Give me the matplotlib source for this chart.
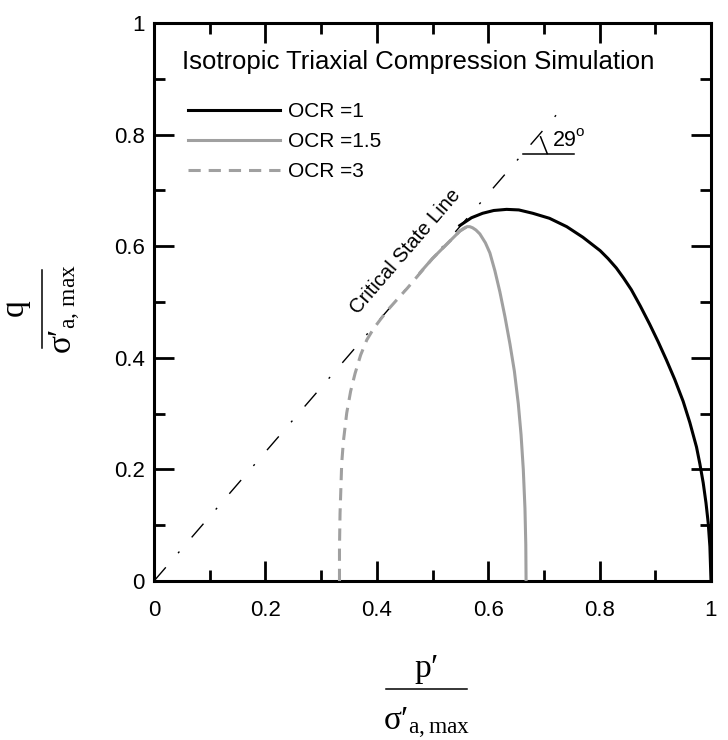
import numpy as np
import matplotlib
matplotlib.use("Agg")
import matplotlib.pyplot as plt
from matplotlib.lines import Line2D

plt.rcParams["font.family"] = ["Liberation Sans", "DejaVu Sans"]
plt.rcParams["mathtext.fontset"] = "custom"
plt.rcParams["mathtext.rm"] = "Liberation Serif"
plt.rcParams["mathtext.it"] = "Liberation Serif:italic"
plt.rcParams["mathtext.bf"] = "Liberation Serif:bold"

# Friction angle of the critical state line (degrees)
phi_deg = 29

# Stress paths, normalised by sigma'_a,max: (p', q)
p_ocr1 = [0.549, 0.570, 0.590, 0.610, 0.633, 0.655, 0.680, 0.710, 0.741, 0.770,
          0.801, 0.815, 0.830, 0.843, 0.857, 0.873, 0.890, 0.905, 0.920, 0.935,
          0.950, 0.962, 0.974, 0.980, 0.986, 0.991, 0.995, 0.998, 1.000]
q_ocr1 = [0.637, 0.651, 0.659, 0.664, 0.666, 0.665, 0.659, 0.650, 0.635, 0.616,
          0.592, 0.578, 0.561, 0.543, 0.522, 0.493, 0.460, 0.429, 0.396, 0.361,
          0.322, 0.284, 0.240, 0.210, 0.176, 0.140, 0.104, 0.062, 0.000]

p_ocr15 = [0.478, 0.500, 0.525, 0.549, 0.556, 0.562, 0.567, 0.572, 0.578, 0.585,
           0.595, 0.603, 0.612, 0.621, 0.630, 0.639, 0.647, 0.654, 0.659, 0.663,
           0.666, 0.6675, 0.668]
q_ocr15 = [0.553, 0.578, 0.603, 0.627, 0.632, 0.635, 0.635, 0.633, 0.629, 0.622,
           0.606, 0.588, 0.556, 0.518, 0.474, 0.425, 0.376, 0.318, 0.262, 0.200,
           0.130, 0.065, 0.000]

p_ocr3 = [0.333, 0.333, 0.334, 0.337, 0.340, 0.346, 0.353, 0.361, 0.371, 0.382,
          0.394, 0.406, 0.420, 0.436, 0.455, 0.472, 0.500, 0.525, 0.549, 0.562]
q_ocr3 = [0.000, 0.060, 0.121, 0.211, 0.250, 0.301, 0.340, 0.372, 0.405, 0.432,
          0.452, 0.468, 0.486, 0.504, 0.525, 0.545, 0.578, 0.603, 0.627, 0.635]

series_labels = ["OCR =1", "OCR =1.5", "OCR =3"]
csl_p_end = 0.735

ticks = [0, 0.2, 0.4, 0.6, 0.8, 1.0]
tick_labels = ["0", "0.2", "0.4", "0.6", "0.8", "1"]
minor_ticks = [0.1, 0.3, 0.5, 0.7, 0.9]

W, H = 728, 740
fig = plt.figure(figsize=(W / 100, H / 100), dpi=100)
ax = fig.add_axes([154 / W, 1 - 581 / H, 557 / W, 558 / H])

sin_phi = np.sin(np.radians(phi_deg))
M = 6 * sin_phi / (3 - sin_phi)

# Critical state line q = M p
csl_p = np.array([0.0, csl_p_end])
ax.plot(csl_p, M * csl_p, color="black", lw=1.0,
        linestyle=(0, (13, 13.5, 1.5, 13.5)), solid_capstyle="butt", zorder=2)

grey = "#a0a0a0"
l3, = ax.plot(p_ocr3, q_ocr3, color=grey, lw=2.2, linestyle=(0, (4, 2.6)), zorder=3)
l15, = ax.plot(p_ocr15, q_ocr15, color=grey, lw=2.2, zorder=4)
l1, = ax.plot(p_ocr1, q_ocr1, color="black", lw=2.2, zorder=5)

ax.set_xlim(0, 1)
ax.set_ylim(0, 1)
ax.set_xticks(ticks)
ax.set_xticklabels(tick_labels)
ax.set_yticks(ticks)
ax.set_yticklabels(tick_labels)
ax.set_xticks(minor_ticks, minor=True)
ax.set_yticks(minor_ticks, minor=True)
ax.tick_params(which="both", direction="in", top=True, right=True, width=2.0,
               labelsize=16)
ax.tick_params(which="major", length=14.4)
ax.tick_params(which="minor", length=8)
ax.tick_params(axis="x", pad=13.5)
ax.tick_params(axis="y", pad=6.5)
for s in ax.spines.values():
    s.set_linewidth(2.2)

# Title and legend inside the frame
ax.text(0.050, 0.931, "Isotropic Triaxial Compression Simulation",
        fontsize=18.5, ha="left", va="center")
leg = ax.legend([l1, l15, l3], series_labels, loc="upper left",
                bbox_to_anchor=(0.061, 0.858), borderaxespad=0, borderpad=0,
                frameon=False, fontsize=15, handlelength=4.4,
                handletextpad=0.4, labelspacing=0.52)

# Label along the critical state line
ax_w = ax.get_position().width * W
ax_h = ax.get_position().height * H
angle = np.degrees(np.arctan(M * ax_h / ax_w))
ax.text(0.451, 0.591, "Critical State Line", rotation=angle, fontsize=14.5,
        ha="center", va="center", rotation_mode="anchor")

# Friction angle marker
y_ang = 0.766
ax.plot([y_ang / M, 0.754], [y_ang, y_ang], color="black", lw=1.1)
ax.plot([0.694, 0.706], [0.796, 0.766], color="black", lw=1.1)
ax.text(0.716, 0.779, "29", fontsize=15.5, ha="left", va="baseline")
ax.text(0.757, 0.798, "o", fontsize=11, ha="left", va="baseline")


def stacked_label(num, den, cx, cy, half, vertical, size, gap_num, gap_den):
    """Draw num over den with a rule between, centred on (cx, cy) in pixels."""
    tf = fig.transFigure
    if vertical:
        fig.add_artist(Line2D([cx / W, cx / W], [1 - (cy - half) / H, 1 - (cy + half) / H],
                              transform=tf, color="black", lw=1.1))
        fig.text((cx - gap_num) / W, 1 - cy / H, num, fontsize=size, rotation=90,
                 ha="right", va="center")
        fig.text((cx + gap_den) / W, 1 - cy / H, den, fontsize=size, rotation=90,
                 ha="left", va="center")
    else:
        fig.add_artist(Line2D([(cx - half) / W, (cx + half) / W], [1 - cy / H, 1 - cy / H],
                              transform=tf, color="black", lw=1.1))
        fig.text(cx / W, 1 - (cy - gap_num) / H, num, fontsize=size,
                 ha="center", va="bottom")
        fig.text(cx / W, 1 - (cy + gap_den) / H, den, fontsize=size,
                 ha="center", va="top")


stacked_label(r"$\mathrm{p}′$", r"$\mathrm{\sigma}′_{\mathrm{a,max}}$",
              426.5, 689, 40.5, False, 24, 3, 17)
stacked_label(r"$\mathrm{q}$", r"$\mathrm{\sigma}′_{\mathrm{a,\,max}}$",
              42, 309, 39, True, 24, 9, 6)

fig.savefig("out.png", dpi=100)
